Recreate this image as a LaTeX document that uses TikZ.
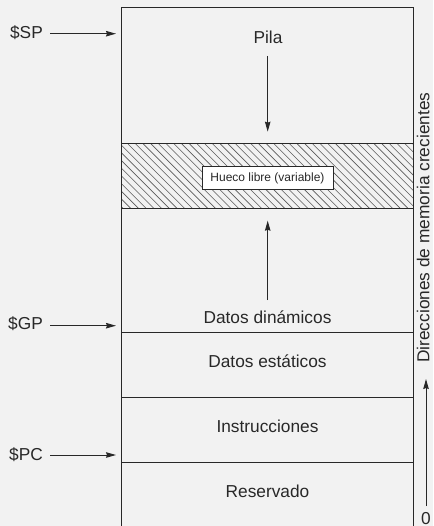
\documentclass[tikz,border=0pt]{standalone}
\usepackage{fontspec}
\setmainfont{Liberation Sans}
\usetikzlibrary{arrows.meta}
\definecolor{bg}{RGB}{242,242,242}
\definecolor{ink}{RGB}{40,40,40}
\definecolor{hatch}{RGB}{90,90,90}
\begin{document}
\begin{tikzpicture}[x=1pt,y=-1pt,
  every node/.style={text=ink,font=\fontsize{17.3}{20}\selectfont},
  wall/.style={draw=ink,line width=1pt},
  arr/.style={draw=ink,line width=1pt,-{Stealth[length=10pt,width=5.5pt,inset=1pt]}},
  reglabel/.style={anchor=base east,inner sep=0pt},
  seglabel/.style={anchor=base,inner sep=0pt},
  holebox/.style={draw=ink,fill=white,line width=0.7pt,minimum width=131pt,minimum height=22.6pt,inner sep=0pt,font=\fontsize{12}{14}\selectfont}]
% page and background
\useasboundingbox (0,0) rectangle (433,526);
\fill[bg] (0,0) rectangle (433,526);
\clip (0,0) rectangle (433,526);

% free gap between stack and heap: hatching
\begin{scope}
  \clip (121,144) rectangle (413,209);
  \foreach \k in {0,...,50} {
    \draw[hatch,line width=0.6pt] ({121-70+\k*7.7},144) -- ++(65,65);
  }
\end{scope}

% outline of the memory map
\draw[wall] (121,530) -- (121,7.5) -- (413,7.5) -- (413,530);
\draw[wall] (121,144) -- (413,144);
\draw[wall] (121,209) -- (413,209);
\draw[wall] (121,332.3) -- (413,332.3);
\draw[wall] (121,397) -- (413,397);
\draw[wall] (121,462) -- (413,462);

% segment names
\node[seglabel] (pila) at (268,44) {Pila};
\node[holebox] (hueco) at (267.5,178) {Hueco libre (variable)};
\node[seglabel] (dinam) at (267.5,323.5) {Datos dinámicos};
\node[seglabel] (estat) at (267.5,367.7) {Datos estáticos};
\node[seglabel] (instr) at (267.5,432.7) {Instrucciones};
\node[seglabel] (reserv) at (267.5,497.7) {Reservado};

% growth of stack and heap
\coordinate (stackfrom) at (267.7,56);
\coordinate (stackto) at (267.7,131.7);
\coordinate (heapfrom) at (267.7,300);
\coordinate (heapto) at (267.7,220.7);
\draw[arr] (stackfrom) -- (stackto);
\draw[arr] (heapfrom) -- (heapto);

% register pointers
\node[reglabel] (sp) at (43,38.5) {\$SP};
\node[reglabel] (gp) at (43,329.5) {\$GP};
\node[reglabel] (pc) at (43,460) {\$PC};
\coordinate (sptip) at (116,33.7);
\coordinate (gptip) at (116,325.7);
\coordinate (pctip) at (116,455);
\draw[arr] (sp.east |- sptip) ++(7,0) coordinate (sptail) (sptail) -- (sptip);
\draw[arr] (gp.east |- gptip) ++(7,0) coordinate (gptail) (gptail) -- (gptip);
\draw[arr] (pc.east |- pctip) ++(7,0) coordinate (pctail) (pctail) -- (pctip);

% address axis
\node[rotate=90,anchor=base west,inner sep=0pt] (dir) at (429.3,363) {Direcciones de memoria crecientes};
\node[seglabel] (zero) at (426,524.5) {0};
\coordinate (axisfrom) at (426,506);
\coordinate (axisto) at (426,379);
\draw[arr] (axisfrom) -- (axisto);
\end{tikzpicture}
\end{document}
